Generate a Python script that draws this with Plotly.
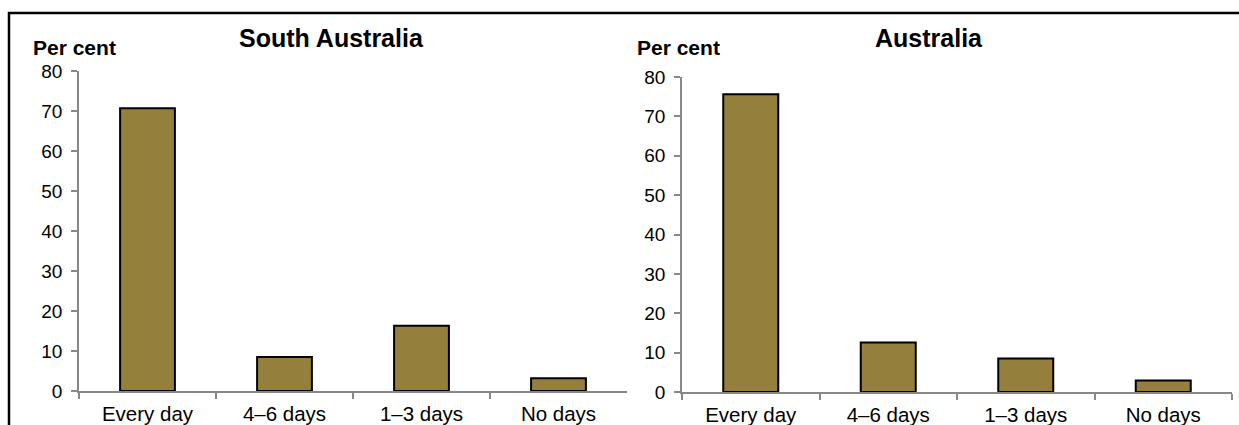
import plotly.graph_objects as go

categories = ["Every day", "4–6 days", "1–3 days", "No days"]
sa_values = [70.7, 8.5, 16.3, 3.2]
aus_values = [75.6, 12.6, 8.5, 2.9]
y_ticks = [0, 10, 20, 30, 40, 50, 60, 70, 80]
panel_titles = ["South Australia", "Australia"]
y_label = "Per cent"

FONT = "Liberation Sans, Arial, sans-serif"
BAR = "#957F3C"
AXIS = "#888888"
W, H = 1239, 425

fig = go.Figure()
fig.add_trace(go.Bar(x=categories, y=sa_values, xaxis="x", yaxis="y",
                     marker=dict(color=BAR, line=dict(color="black", width=2)),
                     showlegend=False, hoverinfo="x+y"))
fig.add_trace(go.Bar(x=categories, y=aus_values, xaxis="x2", yaxis="y2",
                     marker=dict(color=BAR, line=dict(color="black", width=2)),
                     showlegend=False, hoverinfo="x+y"))

def xax(domain, anchor):
    return dict(domain=domain, anchor=anchor, automargin=False,
                showline=True, linecolor=AXIS, linewidth=1.5,
                ticks="outside", tickson="boundaries", ticklen=6, tickcolor=AXIS, tickwidth=1.5,
                ticklabelstandoff=4,
                showgrid=False, zeroline=False,
                tickfont=dict(family=FONT, size=20.5, color="black"))

def yax(domain, anchor):
    return dict(domain=domain, anchor=anchor, automargin=False,
                range=[0, 80], tickvals=y_ticks,
                showline=True, linecolor=AXIS, linewidth=1.5,
                ticks="outside", ticklen=6, tickcolor=AXIS, tickwidth=1.5,
                ticklabelstandoff=5,
                showgrid=False, zeroline=False,
                tickfont=dict(family=FONT, size=19, color="black"))

fig.update_layout(
    template="none",
    width=W, height=H, autosize=False,
    margin=dict(l=0, r=0, t=0, b=0, pad=0, autoexpand=False),
    paper_bgcolor="white", plot_bgcolor="white",
    bargap=0.6,
    xaxis=xax([79 / W, 627 / W], "y"),
    yaxis=yax([(H - 391) / H, (H - 71) / H], "x"),
    xaxis2=xax([682 / W, 1232 / W], "y2"),
    yaxis2=yax([(H - 392) / H, (H - 77) / H], "x2"),
)

# Titles and axis unit labels
fig.add_annotation(text="<b>%s</b>" % panel_titles[0], x=331 / W, y=(H - 38) / H,
                   xref="paper", yref="paper", showarrow=False,
                   xanchor="center", yanchor="middle",
                   font=dict(family=FONT, size=25, color="black"))
fig.add_annotation(text="<b>%s</b>" % panel_titles[1], x=929 / W, y=(H - 38) / H,
                   xref="paper", yref="paper", showarrow=False,
                   xanchor="center", yanchor="middle",
                   font=dict(family=FONT, size=25, color="black"))
fig.add_annotation(text="<b>%s</b>" % y_label, x=31 / W, y=(H - 48) / H,
                   xref="paper", yref="paper", showarrow=False,
                   xanchor="left", yanchor="middle",
                   font=dict(family=FONT, size=21, color="black"))
fig.add_annotation(text="<b>%s</b>" % y_label, x=635 / W, y=(H - 47) / H,
                   xref="paper", yref="paper", showarrow=False,
                   xanchor="left", yanchor="middle",
                   font=dict(family=FONT, size=21, color="black"))

# Outer frame (extends past right and bottom edges)
fig.add_shape(type="rect", xref="paper", yref="paper",
              x0=9 / W, x1=1.05, y0=-0.1, y1=(H - 13) / H,
              line=dict(color="black", width=2.5), fillcolor="rgba(0,0,0,0)", layer="above")

fig.write_html("out.html",
               config={"displayModeBar": False},
               post_script="document.body.style.margin='0';document.body.style.overflow='hidden';")
